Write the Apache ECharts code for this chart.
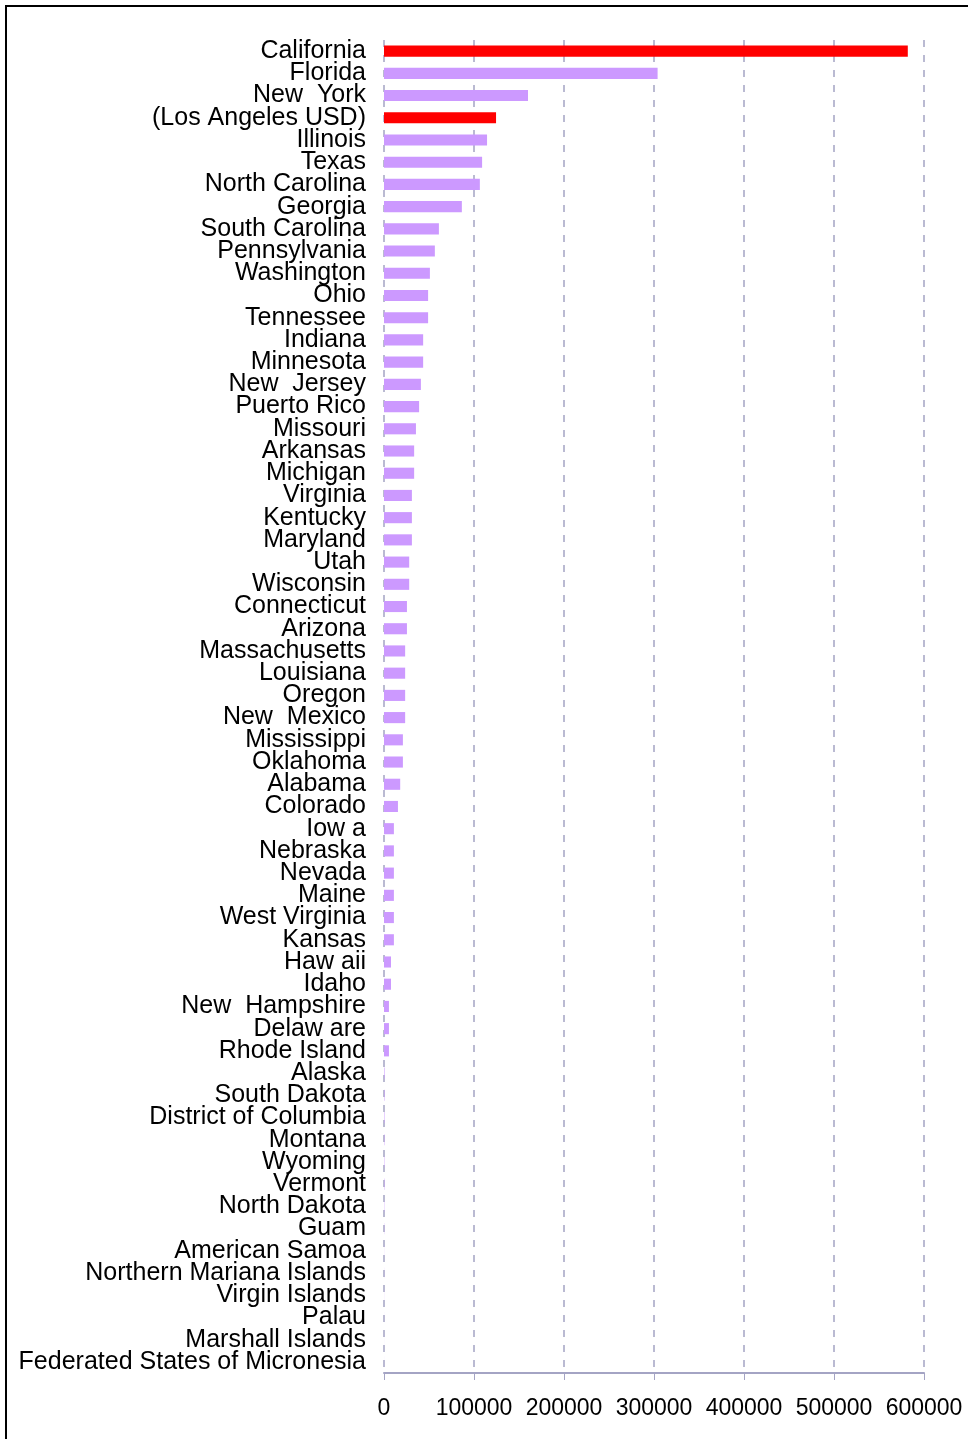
<!DOCTYPE html>
<html>
<head>
<meta charset="utf-8">
<script src="https://cdn.jsdelivr.net/npm/echarts@6/dist/echarts.min.js"></script>
<style>
  html, body { margin: 0; padding: 0; background: #fff; }
  #main { width: 968px; height: 1439px; }
</style>
</head>
<body>
<div id="main"></div>
<script>
// categories, top to bottom
var states = [
  'California', 'Florida', 'New  York', '(Los Angeles USD)', 'Illinois', 'Texas',
  'North Carolina', 'Georgia', 'South Carolina', 'Pennsylvania', 'Washington', 'Ohio',
  'Tennessee', 'Indiana', 'Minnesota', 'New  Jersey', 'Puerto Rico', 'Missouri',
  'Arkansas', 'Michigan', 'Virginia', 'Kentucky', 'Maryland', 'Utah',
  'Wisconsin', 'Connecticut', 'Arizona', 'Massachusetts', 'Louisiana', 'Oregon',
  'New  Mexico', 'Mississippi', 'Oklahoma', 'Alabama', 'Colorado', 'Iow a',
  'Nebraska', 'Nevada', 'Maine', 'West Virginia', 'Kansas', 'Haw aii',
  'Idaho', 'New  Hampshire', 'Delaw are', 'Rhode Island', 'Alaska', 'South Dakota',
  'District of Columbia', 'Montana', 'Wyoming', 'Vermont', 'North Dakota', 'Guam',
  'American Samoa', 'Northern Mariana Islands', 'Virgin Islands', 'Palau', 'Marshall Islands',
  'Federated States of Micronesia'
];

// values
var values = [
  582000, 304000, 160000, 124500, 114500, 109000,
  106500, 86500, 61000, 56500, 51000, 49000,
  49000, 43500, 43500, 41000, 39000, 35500,
  33500, 33500, 31000, 31000, 31000, 28000,
  28000, 25500, 25500, 23500, 23500, 23500,
  23500, 21000, 21000, 18000, 15500, 11000,
  11000, 11000, 11000, 11000, 11000, 7800,
  7800, 5500, 5500, 5500, 600, 500,
  500, 400, 400, 400, 300, 200,
  100, 100, 100, 50, 50,
  50
];

// highlighted rows (red)
var highlight = ['California', '(Los Angeles USD)'];

var xTicks = [0, 100000, 200000, 300000, 400000, 500000, 600000];

var gridColor = '#a4a4c4';

var chart = echarts.init(document.getElementById('main'), null, { renderer: 'canvas' });

var barData = values.map(function (v, i) {
  return {
    value: v,
    itemStyle: { color: highlight.indexOf(states[i]) >= 0 ? '#ff0000' : '#cc99ff' }
  };
});

var option = {
  backgroundColor: '#ffffff',
  animation: false,
  grid: { left: 384, right: 44, top: 40, bottom: 66 },
  xAxis: {
    type: 'value',
    min: xTicks[0],
    max: xTicks[xTicks.length - 1],
    interval: 100000,
    axisLine: { show: true, lineStyle: { color: gridColor, width: 2 } },
    axisTick: { show: true, length: 7, lineStyle: { color: gridColor, width: 1 } },
    axisLabel: {
      color: '#000',
      fontFamily: 'Liberation Sans, Arial, sans-serif',
      fontSize: 23,
      margin: 24,
      formatter: function (v) { return String(v); }
    },
    splitLine: {
      show: true,
      lineStyle: { color: gridColor, width: 1.5, type: [7, 8] }
    }
  },
  yAxis: {
    type: 'category',
    inverse: true,
    data: states,
    axisLine: { show: false },
    axisTick: { show: false },
    axisLabel: {
      color: '#000',
      fontFamily: 'Liberation Sans, Arial, sans-serif',
      fontSize: 25,
      margin: 18,
      interval: 0
    }
  },
  series: [{
    type: 'bar',
    data: barData,
    barWidth: '50%'
  }],
  graphic: [{
    type: 'rect',
    shape: { x: 6, y: 6, width: 1000, height: 1500 },
    style: { fill: 'none', stroke: '#000', lineWidth: 2 },
    silent: true
  }]
};

chart.setOption(option);
</script>
</body>
</html>
